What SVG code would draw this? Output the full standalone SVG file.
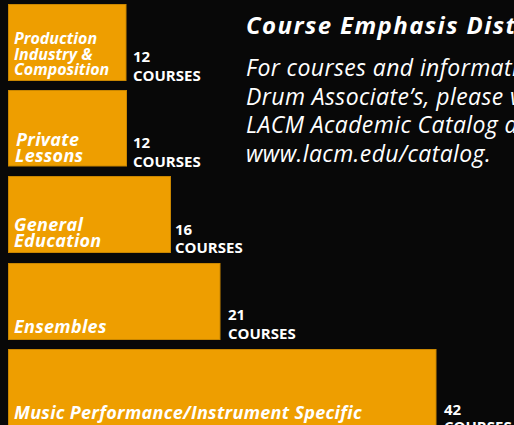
<svg xmlns="http://www.w3.org/2000/svg" width="514" height="425" viewBox="0 0 514 425">
<style>
.bar{fill:#EE9E00;stroke:#C98600;stroke-width:1}
.lbl{font-family:"Open Sans",sans-serif;font-weight:700;font-style:italic;fill:#FFFFFF;font-size:18px;letter-spacing:0.3px}
.cnt{font-family:"Open Sans",sans-serif;font-weight:700;fill:#FFFFFF;font-size:15px}
.title{font-family:"Open Sans",sans-serif;font-weight:700;font-style:italic;fill:#FFFFFF;font-size:24px;letter-spacing:1.4px}
.desc{font-family:"Open Sans",sans-serif;font-style:italic;fill:#FFFFFF;font-size:23px;letter-spacing:0.4px}
</style>
<rect width="514" height="425" fill="#080808"/>
<g id="bar-production">
<rect class="bar" x="8.5" y="4.5" width="117.5" height="76"/>
<text class="lbl" style="font-size:16px;letter-spacing:0"><tspan x="14" y="44">Production</tspan><tspan x="14" y="59.5">Industry &amp;</tspan><tspan x="14" y="75">Composition</tspan></text>
<text class="cnt"><tspan x="133" y="62">12</tspan><tspan x="133" y="81">COURSES</tspan></text>
</g>
<g id="bar-private">
<rect class="bar" x="8.5" y="90.5" width="118" height="75.5"/>
<text class="lbl"><tspan x="16" y="145.5">Private</tspan><tspan x="15" y="161.5">Lessons</tspan></text>
<text class="cnt"><tspan x="133" y="148">12</tspan><tspan x="133" y="167">COURSES</tspan></text>
</g>
<g id="bar-general">
<rect class="bar" x="8.5" y="176.5" width="162" height="76"/>
<text class="lbl"><tspan x="14" y="231">General</tspan><tspan x="14" y="246.5">Education</tspan></text>
<text class="cnt"><tspan x="175" y="234.5">16</tspan><tspan x="175" y="252.5">COURSES</tspan></text>
</g>
<g id="bar-ensembles">
<rect class="bar" x="8.5" y="263.5" width="211.5" height="76"/>
<text class="lbl" x="14" y="333">Ensembles</text>
<text class="cnt"><tspan x="228" y="320">21</tspan><tspan x="228" y="338.5">COURSES</tspan></text>
</g>
<g id="bar-music">
<rect class="bar" x="8.5" y="349.5" width="427.5" height="80"/>
<text class="lbl" x="14" y="419">Music Performance/Instrument Specific</text>
<text class="cnt"><tspan x="444" y="415">42</tspan><tspan x="444" y="431.5">COURSES</tspan></text>
</g>
<g id="heading">
<text class="title" x="246" y="33.5">Course Emphasis Distribution</text>
<text class="desc"><tspan x="246" y="76">For courses and information on the</tspan><tspan x="246" y="105">Drum Associate’s, please visit the</tspan><tspan x="246" y="133">LACM Academic Catalog at</tspan><tspan x="246" y="162">www.lacm.edu/catalog.</tspan></text>
</g>
<g id="connectors"/>
</svg>
